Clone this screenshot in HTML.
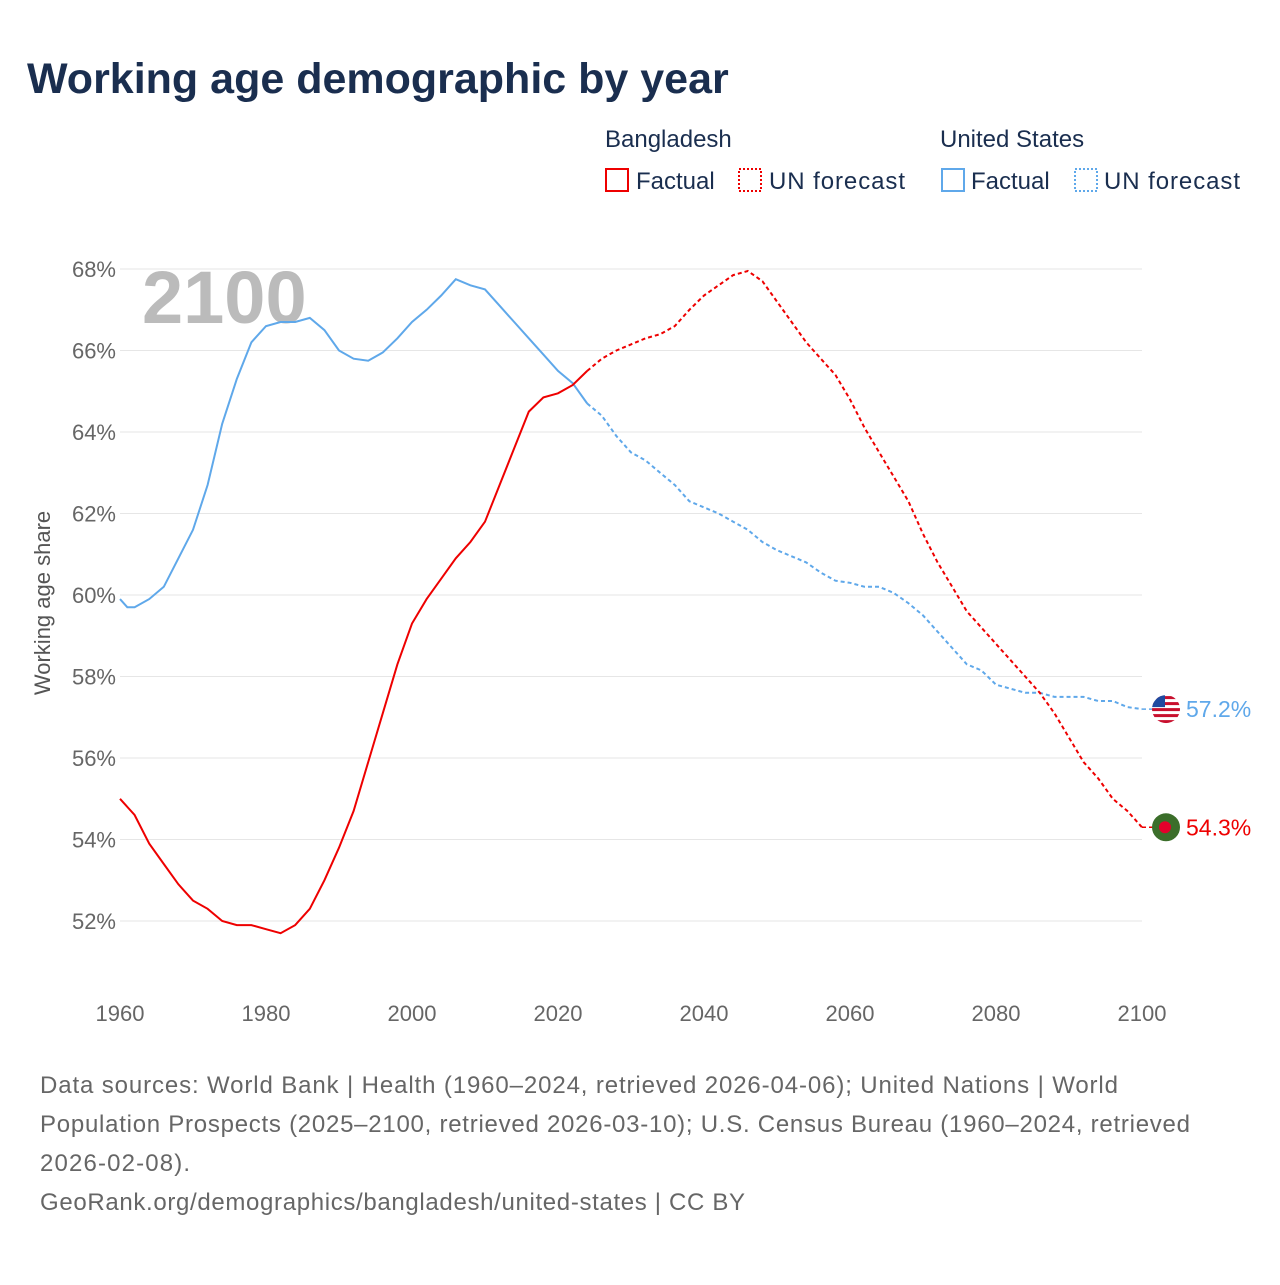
<!DOCTYPE html>
<html><head><meta charset="utf-8"><style>
body{margin:0;width:1280px;height:1280px;background:#fff;font-family:"Liberation Sans",sans-serif;overflow:hidden}
</style></head><body>
<svg width="1280" height="1280" font-family="Liberation Sans, sans-serif">
<defs><clipPath id="usclip"><circle id="usclipc" cx="0" cy="0" r="14"/></clipPath></defs>
<text x="27" y="93" font-size="43" font-weight="bold" fill="#1a2e4f">Working age demographic by year</text>
<g font-size="24" fill="#1a2e4f">
<text x="605" y="147">Bangladesh</text>
<text x="940" y="147">United States</text>
<rect x="606" y="169" width="22" height="22" fill="none" stroke="#e00" stroke-width="2"/>
<text x="636" y="189">Factual</text>
<rect x="739" y="169" width="22" height="22" fill="none" stroke="#e00" stroke-width="2" stroke-dasharray="2 2"/>
<text x="769" y="189" textLength="136">UN forecast</text>
<rect x="942" y="169" width="22" height="22" fill="none" stroke="#5fa8ea" stroke-width="2"/>
<text x="971" y="189">Factual</text>
<rect x="1075" y="169" width="22" height="22" fill="none" stroke="#5fa8ea" stroke-width="2" stroke-dasharray="2 2"/>
<text x="1104" y="189" textLength="136">UN forecast</text>
</g>
<g id="grid"></g>
<text x="142" y="323" font-size="74" font-weight="bold" fill="#bbb">2100</text>
<text transform="translate(50,603) rotate(-90)" text-anchor="middle" font-size="22" fill="#555">Working age share</text>
<g id="plot"></g>
<g font-size="24" fill="#666">
<text x="40" y="1093" textLength="1078">Data sources: World Bank | Health (1960–2024, retrieved 2026-04-06); United Nations | World</text>
<text x="40" y="1132" textLength="1150">Population Prospects (2025–2100, retrieved 2026-03-10); U.S. Census Bureau (1960–2024, retrieved</text>
<text x="40" y="1171" textLength="150">2026-02-08).</text>
<text x="40" y="1210" textLength="705">GeoRank.org/demographics/bangladesh/united-states | CC BY</text>
</g>
</svg>
<script>
const yTicks=[52,54,56,58,60,62,64,66,68];
const xTicks=[1960,1980,2000,2020,2040,2060,2080,2100];
const bdYears=[1960,1962,1964,1966,1968,1970,1972,1974,1976,1978,1980,1982,1984,1986,1988,1990,1992,1994,1996,1998,2000,2002,2004,2006,2008,2010,2012,2014,2016,2018,2020,2022,2024,2026,2028,2030,2032,2034,2036,2038,2040,2042,2044,2046,2048,2050,2052,2054,2056,2058,2060,2062,2064,2066,2068,2070,2072,2074,2076,2078,2080,2082,2084,2086,2088,2090,2092,2094,2096,2098,2100];
const bdValues=[55.0,54.6,53.9,53.4,52.9,52.5,52.3,52.0,51.9,51.9,51.8,51.7,51.9,52.3,53.0,53.8,54.7,55.9,57.1,58.3,59.3,59.9,60.4,60.9,61.3,61.8,62.7,63.6,64.5,64.85,64.95,65.15,65.5,65.8,66.0,66.15,66.3,66.4,66.6,67.0,67.35,67.6,67.85,67.95,67.7,67.2,66.7,66.2,65.8,65.4,64.8,64.1,63.5,62.9,62.3,61.5,60.8,60.2,59.6,59.2,58.8,58.4,58.0,57.6,57.1,56.5,55.9,55.5,55.0,54.7,54.3];
const usYears=[1960,1961,1962,1964,1966,1968,1970,1972,1974,1976,1978,1980,1982,1984,1986,1988,1990,1992,1994,1996,1998,2000,2002,2004,2006,2008,2010,2012,2014,2016,2018,2020,2022,2024,2026,2028,2030,2032,2034,2036,2038,2040,2042,2044,2046,2048,2050,2052,2054,2056,2058,2060,2062,2064,2066,2068,2070,2072,2074,2076,2078,2080,2082,2084,2086,2088,2090,2092,2094,2096,2098,2100];
const usValues=[59.9,59.7,59.7,59.9,60.2,60.9,61.6,62.7,64.2,65.3,66.2,66.6,66.7,66.7,66.8,66.5,66.0,65.8,65.75,65.95,66.3,66.7,67.0,67.35,67.75,67.6,67.5,67.1,66.7,66.3,65.9,65.5,65.2,64.7,64.4,63.9,63.5,63.3,63.0,62.7,62.3,62.15,62.0,61.8,61.6,61.3,61.1,60.95,60.8,60.55,60.35,60.3,60.2,60.2,60.05,59.8,59.5,59.1,58.7,58.3,58.15,57.8,57.7,57.6,57.6,57.5,57.5,57.5,57.4,57.4,57.25,57.2];
const lastFactual=2024;
const NS="http://www.w3.org/2000/svg";
const X=y=>120+(y-1960)*(1142-120)/140;
const Y=v=>921-(v-52)*(921-269)/16;
const grid=document.getElementById('grid'),plot=document.getElementById('plot');
function mk(tag,attrs,parent){const e=document.createElementNS(NS,tag);for(const k in attrs)e.setAttribute(k,attrs[k]);parent.appendChild(e);return e;}
yTicks.forEach(t=>{
 const l=mk('line',{x1:120,x2:1142,y1:Y(t),y2:Y(t),stroke:'#e6e6e6','stroke-width':1},grid);
 
 
 const tx=mk('text',{x:116,y:Y(t)+8,'text-anchor':'end','font-size':22,fill:'#666'},grid);
 tx.textContent=t+'%';
 
 
});
xTicks.forEach(t=>{
 const tx=mk('text',{x:X(t),y:1021,'text-anchor':'middle','font-size':22,fill:'#666'},grid);
 tx.textContent=t;
 
 
});
function series(years,vals,color,name){
 const f=[],p=[];
 years.forEach((yr,i)=>{const pt=X(yr).toFixed(1)+','+Y(vals[i]).toFixed(1);if(yr<=lastFactual)f.push(pt);if(yr>=lastFactual)p.push(pt);});
 const a=mk('polyline',{points:f.join(' '),fill:'none',stroke:color,'stroke-width':2},plot);
 
 
 const b=mk('polyline',{points:p.join(' '),fill:'none',stroke:color,'stroke-width':2,'stroke-dasharray':'4 3'},plot);
 
 
 const lv=vals[vals.length-1],ly=Y(lv),lx=X(years[years.length-1]);
 const d=mk('line',{x1:lx,x2:lx+24,y1:ly,y2:ly,stroke:color,'stroke-width':1.5,'stroke-dasharray':'4 3'},plot);
 
 
 return {lx:lx+24,ly:ly,lv:lv};
}
const us=series(usYears,usValues,'#5fa8ea','us');
const bd=series(bdYears,bdValues,'#e00','bangladesh');
const f1=mk('circle',{cx:bd.lx,cy:bd.ly,r:14,fill:'#3b6e2a'},plot);


mk('circle',{cx:bd.lx-1,cy:bd.ly,r:6,fill:'#e4002b'},plot);
const cc=document.getElementById('usclipc');cc.setAttribute('cx',us.lx);cc.setAttribute('cy',us.ly);
const fg=mk('g',{'clip-path':'url(#usclip)'},plot);


mk('rect',{x:us.lx-14,y:us.ly-14,width:28,height:28,fill:'#fff'},fg);
for(let i=0;i<5;i++)mk('rect',{x:us.lx-14,y:us.ly-13+i*6,width:28,height:3,fill:'#c8102e'},fg);
mk('rect',{x:us.lx-14,y:us.ly-14,width:13,height:12,fill:'#1f4aa0'},fg);
[[bd,'#e00','bangladesh'],[us,'#5fa8ea','us']].forEach(([s,c,n])=>{
 const t=mk('text',{x:s.lx+20,y:s.ly+8,'font-size':23,fill:c},plot);
 t.textContent=s.lv.toFixed(1)+'%';
 
 
});
</script>
</body></html>
